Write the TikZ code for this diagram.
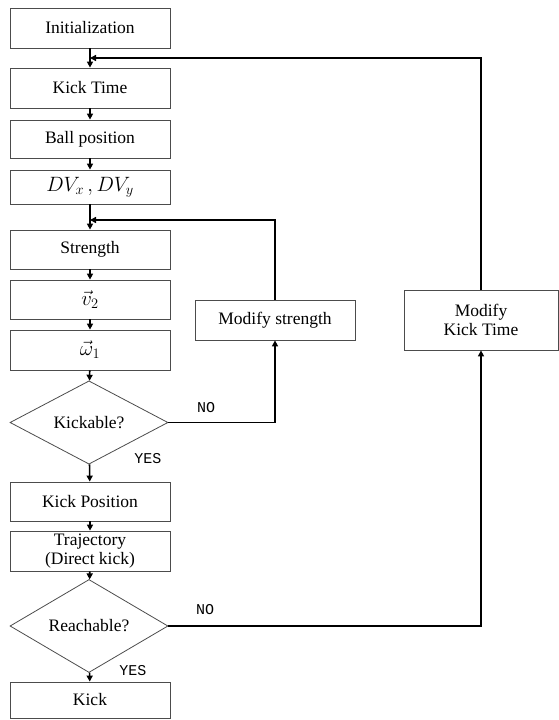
\documentclass[tikz,border=0pt]{standalone}
\usepackage{fontspec}
\setmainfont{Liberation Serif}
\setmonofont{Liberation Mono}
\usetikzlibrary{shapes.geometric,arrows.meta}
\begin{document}
\begin{tikzpicture}[x=1pt,y=-1pt,
  box/.style={draw=black!70, line width=0.8pt, minimum width=160pt, minimum height=#1, inner sep=0pt, align=center, font=\fontsize{17.5}{19}\selectfont},
  box/.default=40pt,
  dec/.style={diamond, draw=black!70, line width=0.8pt, minimum width=158pt, minimum height=#1, inner sep=0pt, align=center, font=\fontsize{17.5}{19}\selectfont},
  conn/.style={draw=black, line width=1.6pt, -{Triangle[length=6pt,width=6pt]}},
  mth/.style={font=\fontsize{21}{23}\selectfont},
  lbl/.style={font=\ttfamily\fontsize{15}{17}\selectfont, inner sep=0pt}]
\useasboundingbox (0,0) rectangle (559,720);
\node[box=40pt] (init) at (90,28) {Initialization};
\node[box=40pt] (kt) at (90,88) {Kick Time};
\node[box=38pt] (ball) at (90,139) {Ball position};
\node[box=34pt, mth] (dv) at (90,187) {$DV_x\,,DV_y$};
\node[box=39pt] (st) at (90,249.5) {Strength};
\node[box=39pt, mth] (v2) at (90,299.5) {$\vec{v}_2$};
\node[box=40pt, mth] (om) at (90,350) {$\vec{\omega}_1$};
\node[dec=81pt] (kick) at (89,422.5) {Kickable?};
\node[box=39pt] (kp) at (90,501.5) {Kick Position};
\node[box=40pt] (tr) at (90,551) {Trajectory\\(Direct kick)};
\node[dec=88pt] (reach) at (89,626) {Reachable?};
\node[box=36pt] (kk) at (90,700) {Kick};
\node[box=40pt] (ms) at (275,320) {Modify strength};
\node[box=60pt, minimum width=154pt] (mkt) at (481,320) {Modify\\Kick Time};
\coordinate (j1) at (90,58);
\coordinate (j2) at (90,220);
\draw[conn] (init) -- (kt);
\draw[conn] (kt) -- (ball);
\draw[conn] (ball) -- (dv);
\draw[conn] (dv) -- (st);
\draw[conn] (st) -- (v2);
\draw[conn] (v2) -- (om);
\draw[conn] (om) -- (kick);
\draw[conn] (kick) -- (kp);
\draw[conn] (kp) -- (tr);
\draw[conn] (tr) -- (reach);
\draw[conn] (reach) -- (kk);
\draw[conn] (kick.east) -| (ms.south);
\draw[conn] (ms.north) |- (j2);
\draw[conn] (reach.east) -| (mkt.south);
\draw[conn] (mkt.north) |- (j1);
\node[lbl] (no1) at (206,408) {NO};
\node[lbl] (yes1) at (148,459) {YES};
\node[lbl] (no2) at (205,610) {NO};
\node[lbl] (yes2) at (133,671) {YES};
\end{tikzpicture}
\end{document}
